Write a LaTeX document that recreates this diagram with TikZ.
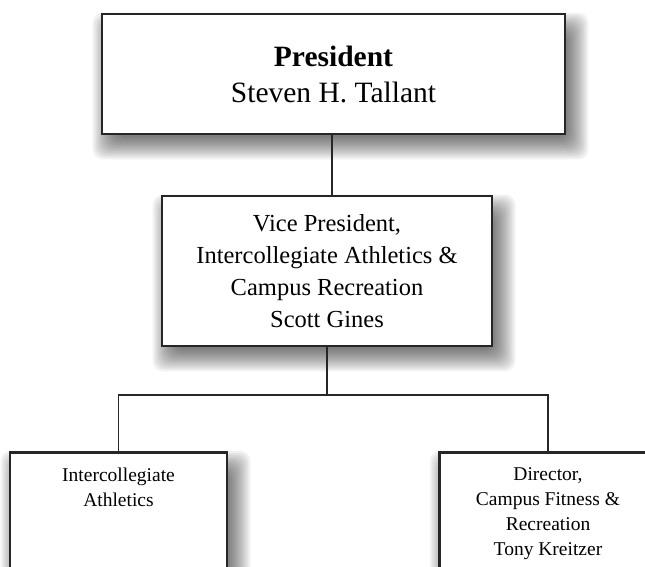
\documentclass[tikz,border=0pt]{standalone}
\usepackage{fontspec}
\setmainfont{Liberation Serif}
\usetikzlibrary{calc}
\pgfdeclarelayer{bg}
\pgfsetlayers{bg,main}
\begin{document}
\begin{tikzpicture}[x=1pt,y=-1pt,
  box/.style={draw=black!85, line width=2.6pt, fill=white, align=center, inner sep=0pt},
  lowbox/.style={box, anchor=north, minimum width=217pt, inner ysep=15.5pt, text depth=160pt,
    font=\fontsize{19.5}{25}\selectfont},
  link/.style={draw=black!85, line width=1.8pt},
  shadowlayer/.style={fill=black, opacity=0.055}]
\useasboundingbox (0,0) rectangle (645,567);
\clip (0,0) rectangle (645,567);
\node[box, minimum width=463pt, minimum height=120pt, font=\fontsize{29.5}{36}\selectfont]
  (pres) at (333.5,74) {\textbf{President}\\Steven H. Tallant};
\node[box, minimum width=330pt, minimum height=150pt, font=\fontsize{24.5}{32}\selectfont]
  (vp) at (327,271) {Vice President,\\Intercollegiate Athletics \&\\Campus Recreation\\Scott Gines};
\node[lowbox] (ia) at (118.5,451) {Intercollegiate\\Athletics};
\node[lowbox] (cf) at (548,451) {Director,\\Campus Fitness \&\\Recreation\\Tony Kreitzer};
\coordinate (junction) at (327,395);
\draw[link] (pres.south -| 332,0) -- (332,0 |- vp.north);
\draw[link] (vp.south) -- (junction);
\draw[link] (ia.north) |- (junction) -| (cf.north);
\begin{pgfonlayer}{bg}
  \fill[white] (0,0) rectangle (645,567);
  \foreach \n in {pres,vp,ia,cf}{
    \foreach \d in {16,14,12,10,8,6,4,2,0,-2,-4,-6}{
      \fill[shadowlayer, rounded corners=10pt]
        ($(\n.south west)+(8-\d,8+\d)$) rectangle ($(\n.north east)+(6+\d,16-\d)$);
    }
  }
\end{pgfonlayer}
\end{tikzpicture}
\end{document}
